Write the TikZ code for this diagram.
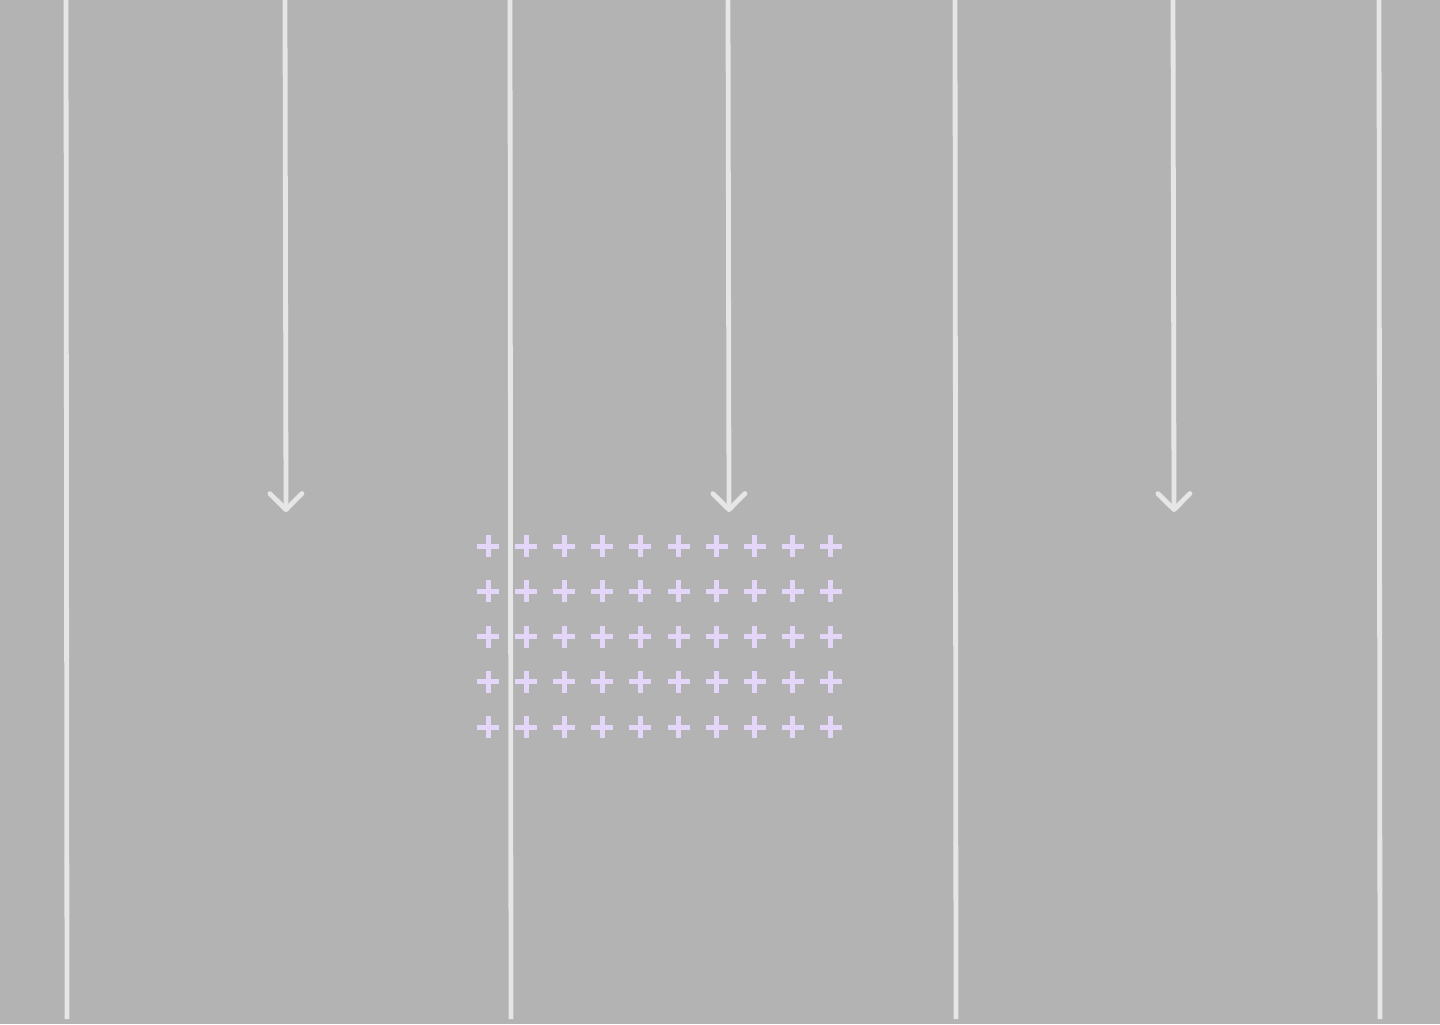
\documentclass[tikz,border=0pt]{standalone}
\usepackage{xcolor}
\usetikzlibrary{arrows.meta}
\definecolor{bgGray}{HTML}{B3B3B3}
\definecolor{laneLine}{HTML}{E6E6E6}
\definecolor{plusMark}{HTML}{E4D6F8}

\begin{document}
\begin{tikzpicture}[
    x=0.01cm, y=-0.01cm,
    lane/.style={draw=laneLine, line width=0.048cm},
    drop/.style={draw=laneLine, line width=0.048cm, line cap=round,
                 -{Straight Barb[length=0.16cm, width=0.32cm, line width=0.048cm, round]}},
    plus/.style={draw=plusMark, line width=0.05cm},
]

% background
\fill[bgGray] (0,0) rectangle (1440,1024);
\useasboundingbox (0,0) rectangle (1440,1024);

% grid of plus marks
\foreach \col in {0,...,9}{
  \foreach \row in {0,...,4}{
    \coordinate (p\col\row) at ({488+38.1*\col},{546+45.25*\row});
    \draw[plus] ([xshift=-0.11cm]p\col\row) -- ([xshift=0.11cm]p\col\row)
                ([yshift=-0.11cm]p\col\row) -- ([yshift=0.11cm]p\col\row);
  }
}

% lane lines
\foreach \x [count=\i] in {66,510,955,1379}{
  \coordinate (lt\i) at (\x,0);
  \coordinate (lb\i) at (\x+1,1019);
  \draw[lane] (lt\i) -- (lb\i);
}

% downward arrows
\foreach \x [count=\i] in {285,728,1173}{
  \coordinate (at\i) at (\x,1);
  \coordinate (ab\i) at (\x+1,512);
  \draw[drop] (at\i) -- (ab\i);
}

\end{tikzpicture}
\end{document}
